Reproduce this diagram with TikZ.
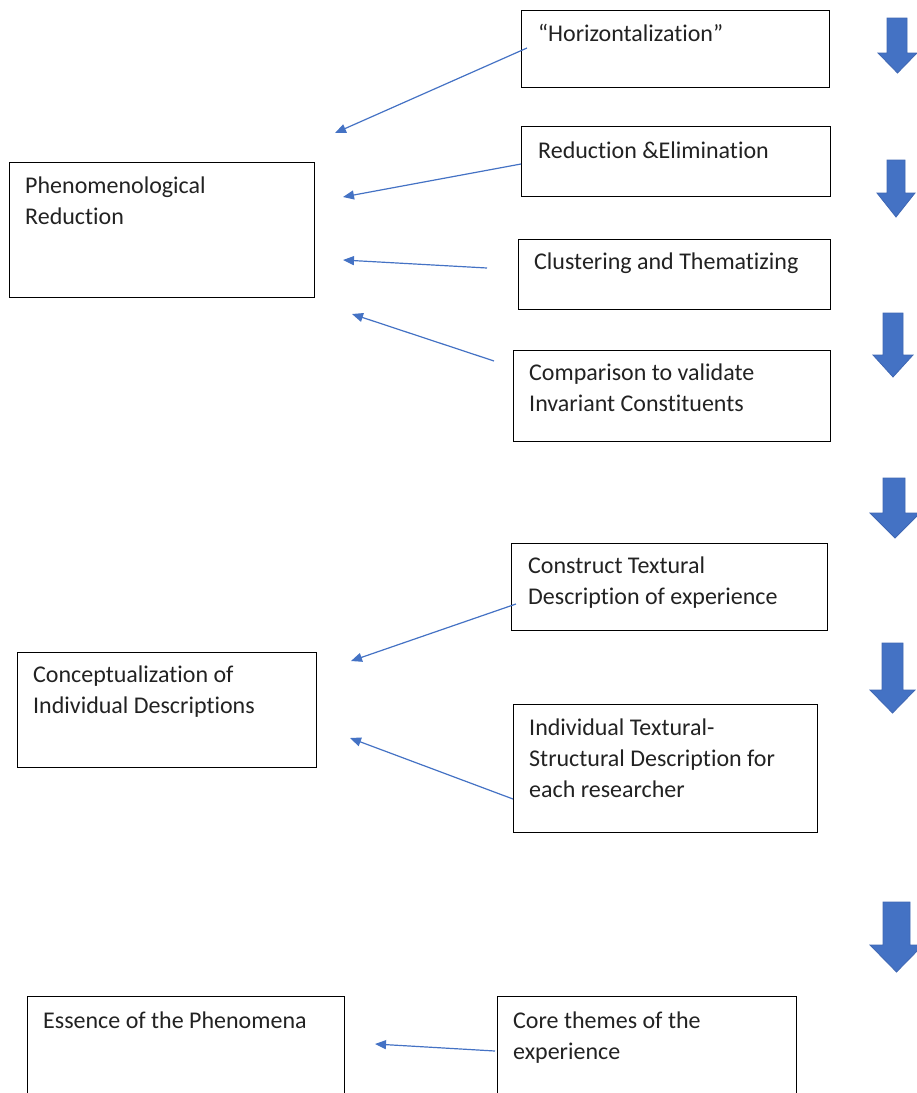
\documentclass[tikz,border=0pt]{standalone}
\usepackage{fontspec}
\setmainfont{Carlito}[Ligatures={NoCommon,TeX}]
\usetikzlibrary{arrows.meta}
\definecolor{arrblue}{HTML}{4472C4}
\definecolor{arredge}{HTML}{3F67B3}
\definecolor{txtgray}{HTML}{222222}
\tikzset{
  box/.style={draw=black, line width=1.3pt, anchor=north west, inner sep=0pt, fill=none},
  txt/.style={anchor=base west, inner sep=0pt, text=txtgray, font=\fontsize{24}{31}\selectfont},
  conn/.style={draw=arrblue, line width=1.2pt, -{Triangle[length=11pt, width=9pt]}},
  blk/.style={fill=arrblue, draw=arredge, line width=0.8pt, line join=miter}
}
\newcommand\blockdown[7]{% shaftL shaftR headL headR top headbase tip
  \path[blk] (#1,#5) -- (#2,#5) -- (#2,#6) -- (#4,#6) -- ({(#3+#4)/2},#7) -- (#3,#6) -- (#1,#6) -- cycle;}
\newcommand\lines[1]{\begin{tabular}[t]{@{}l@{}}#1\end{tabular}}
\begin{document}
\begin{tikzpicture}[x=1pt, y=-1pt]
\useasboundingbox (0,0) rectangle (917,1093);
\clip (0,0) rectangle (917,1093);
% boxes
\node[box, minimum width=308pt, minimum height=77pt] (hor) at (521,10) {};
\node[box, minimum width=309pt, minimum height=70pt] (red) at (521,126) {};
\node[box, minimum width=312pt, minimum height=70pt] (clu) at (518,239) {};
\node[box, minimum width=317pt, minimum height=91pt] (com) at (513,350) {};
\node[box, minimum width=305pt, minimum height=135pt] (phe) at (9,162) {};
\node[box, minimum width=316pt, minimum height=87pt] (con) at (511,543) {};
\node[box, minimum width=299pt, minimum height=115pt] (cpt) at (17,652) {};
\node[box, minimum width=304pt, minimum height=128pt] (ind) at (513,704) {};
\node[box, minimum width=317pt, minimum height=140pt] (ess) at (27,996) {};
\node[box, minimum width=299pt, minimum height=140pt] (cor) at (497,996) {};
% texts
\node[txt] (horT) at (538,41) {\lines{“Horizontalization”}};
\node[txt] (redT) at (538,158) {\lines{Reduction \&Elimination}};
\node[txt] (cluT) at (534,269) {\lines{Clustering and Thematizing}};
\node[txt] (comT) at (529,380) {\lines{Comparison to validate\\Invariant Constituents}};
\node[txt] (pheT) at (25,193) {\lines{Phenomenological\\Reduction}};
\node[txt] (conT) at (528,573) {\lines{Construct Textural\\Description of experience}};
\node[txt] (cptT) at (33,682) {\lines{Conceptualization of\\Individual Descriptions}};
\node[txt] (indT) at (529,735) {\lines{Individual Textural-\\Structural Description for\\each researcher}};
\node[txt] (essT) at (43,1028) {\lines{Essence of the Phenomena}};
\node[txt] (corT) at (513,1028) {\lines{Core themes of the\\experience}};
% connector endpoints
\coordinate (a1) at (527,48);  \coordinate (a2) at (335,133);
\coordinate (b1) at (521,164); \coordinate (b2) at (343,197);
\coordinate (c1) at (487,268); \coordinate (c2) at (343,260);
\coordinate (d1) at (494,361); \coordinate (d2) at (352,314);
\coordinate (e1) at (516,604); \coordinate (e2) at (351,661);
\coordinate (f1) at (513,799); \coordinate (f2) at (350,738);
\coordinate (g1) at (495,1051); \coordinate (g2) at (375,1044);
\draw[conn] (a1) -- (a2);
\draw[conn] (b1) -- (b2);
\draw[conn] (c1) -- (c2);
\draw[conn] (d1) -- (d2);
\draw[conn] (e1) -- (e2);
\draw[conn] (f1) -- (f2);
\draw[conn] (g1) -- (g2);
% block arrows
\blockdown{887}{907}{878}{917}{18}{53}{73}
\blockdown{887}{905}{877}{915}{160}{193}{217}
\blockdown{883}{903}{873}{913}{313}{355}{377}
\blockdown{883}{905}{870}{920}{478}{513}{538}
\blockdown{882}{903}{870}{915}{643}{690}{713}
\blockdown{883}{910}{870}{923}{902}{945}{972}
\end{tikzpicture}
\end{document}
